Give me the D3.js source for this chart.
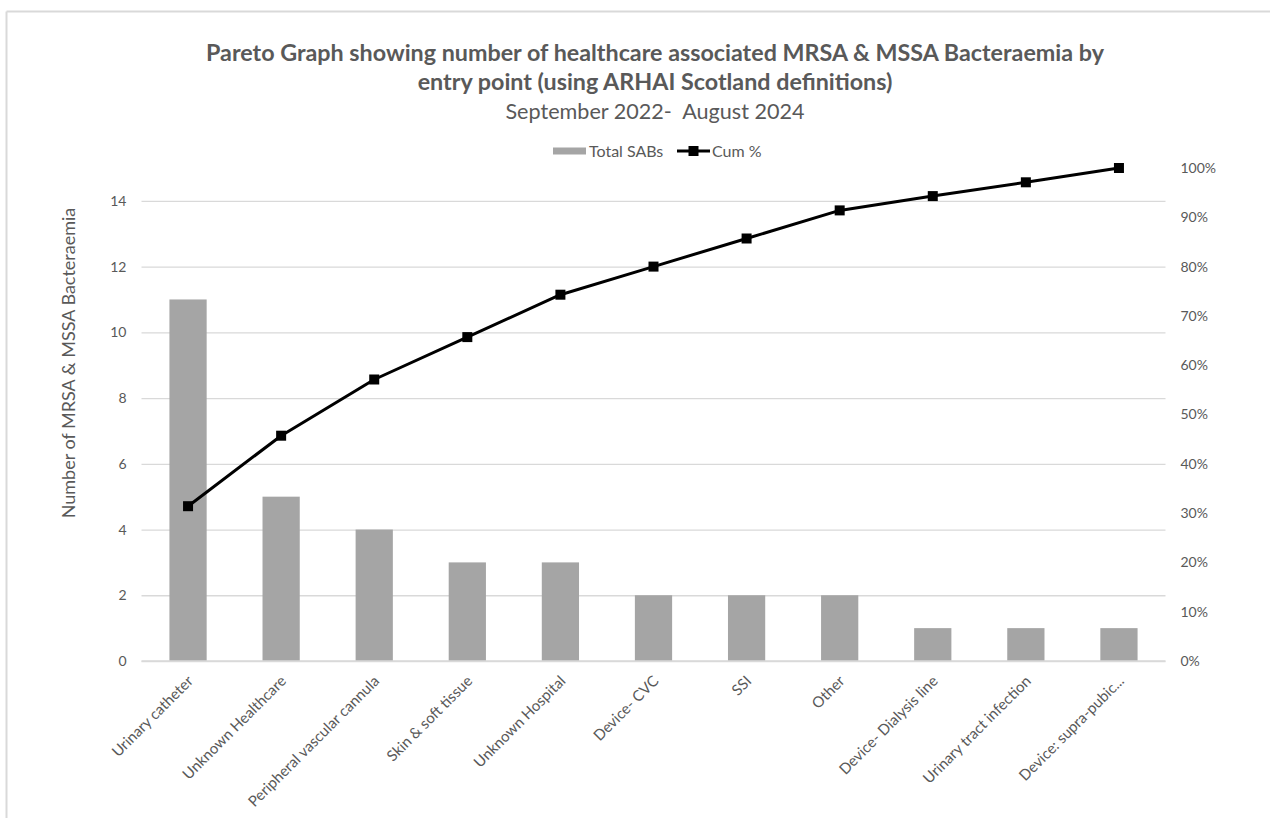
<!DOCTYPE html>
<html>
<head>
<meta charset="utf-8">
<script src="https://cdn.jsdelivr.net/npm/d3@7"></script>
<style>
  html, body { margin: 0; padding: 0; background: #ffffff; }
  svg { display: block; font-family: Lato, "Open Sans", sans-serif; }
</style>
</head>
<body>
<svg id="chart" width="1270" height="818"></svg>
<script>
// Entry points, ordered by count
const categories = [
  "Urinary catheter", "Unknown Healthcare", "Peripheral vascular cannula",
  "Skin & soft tissue", "Unknown Hospital", "Device- CVC", "SSI", "Other",
  "Device- Dialysis line", "Urinary tract infection", "Device: supra-pubic..."
];
// Total SABs per entry point
const totalSABs = [11, 5, 4, 3, 3, 2, 2, 2, 1, 1, 1];
// Cumulative percentage of all SABs
const cumPct = [31.4, 45.7, 57.1, 65.7, 74.3, 80.0, 85.7, 91.4, 94.3, 97.1, 100.0];
// Axis ticks
const leftTicks = [0, 2, 4, 6, 8, 10, 12, 14];
const rightTicks = [0, 10, 20, 30, 40, 50, 60, 70, 80, 90, 100];

const titleLines = [
  "Pareto Graph showing number of healthcare associated MRSA & MSSA Bacteraemia by",
  "entry point (using ARHAI Scotland definitions)"
];
const subtitle = "September 2022-  August 2024";
const yTitle = "Number of MRSA & MSSA Bacteraemia";
const legendLabels = ["Total SABs", "Cum %"];

const svg = d3.select("#chart");
const textColor = "#595959";
const gridColor = "#d9d9d9";
const barColor = "#a5a5a5";

// Outer frame (top and left edges)
svg.append("line").attr("x1", 6.5).attr("x2", 1270).attr("y1", 11.5).attr("y2", 11.5)
  .attr("stroke", gridColor).attr("stroke-width", 2);
svg.append("line").attr("x1", 6.5).attr("x2", 6.5).attr("y1", 11.5).attr("y2", 818)
  .attr("stroke", gridColor).attr("stroke-width", 2);

const plot = { left: 141.5, right: 1165.5, top: 168, bottom: 661 };

const x = d3.scaleBand().domain(categories)
  .range([plot.left, plot.right]).paddingInner(0.6).paddingOuter(0.3);
const yL = d3.scaleLinear().domain([0, 15]).range([plot.bottom, plot.top]);
const yR = d3.scaleLinear().domain([0, 100]).range([plot.bottom, plot.top]);

// Titles
svg.append("text").attr("x", 655).attr("y", 61).attr("text-anchor", "middle")
  .attr("font-size", 23.3).attr("font-weight", "bold").attr("fill", textColor)
  .text(titleLines[0]);
svg.append("text").attr("x", 655).attr("y", 90).attr("text-anchor", "middle")
  .attr("font-size", 23.3).attr("font-weight", "bold").attr("fill", textColor)
  .text(titleLines[1]);
svg.append("text").attr("x", 655).attr("y", 119).attr("text-anchor", "middle")
  .attr("font-size", 21.6).attr("fill", textColor)
  .attr("xml:space", "preserve").style("white-space", "pre")
  .text(subtitle);

// Gridlines from the left axis
const gridAxis = d3.axisLeft(yL).tickValues(leftTicks)
  .tickSize(-(plot.right - plot.left)).tickFormat("");
const gG = svg.append("g").attr("transform", `translate(${plot.left},0)`).call(gridAxis);
gG.select(".domain").remove();
gG.selectAll("line").attr("stroke", gridColor).attr("stroke-width", 1.3);

// Left axis labels
const leftAxis = d3.axisLeft(yL).tickValues(leftTicks).tickSize(0).tickPadding(15);
const lA = svg.append("g").attr("transform", `translate(${plot.left},0)`).call(leftAxis);
lA.select(".domain").remove();
lA.selectAll("text").attr("fill", textColor).attr("font-size", 14)
  .attr("font-family", "Lato, sans-serif");

// Right axis labels
const rightAxis = d3.axisRight(yR).tickValues(rightTicks).tickSize(0).tickPadding(15)
  .tickFormat(d => d + "%");
const rA = svg.append("g").attr("transform", `translate(${plot.right},0)`).call(rightAxis);
rA.select(".domain").remove();
rA.selectAll("text").attr("fill", textColor).attr("font-size", 14)
  .attr("font-family", "Lato, sans-serif");

// Bars
svg.append("g").selectAll("rect").data(categories).join("rect")
  .attr("x", d => x(d))
  .attr("width", x.bandwidth())
  .attr("y", (d, i) => yL(totalSABs[i]))
  .attr("height", (d, i) => yL(0) - yL(totalSABs[i]))
  .attr("fill", barColor);

// Category axis
const xAxis = d3.axisBottom(x).tickSize(0).tickPadding(0);
const xA = svg.append("g").attr("transform", `translate(0,${plot.bottom})`).call(xAxis);
xA.select(".domain").remove();
xA.selectAll("text")
  .attr("fill", textColor).attr("font-size", 15).attr("font-family", "Lato, sans-serif")
  .attr("text-anchor", "end")
  .attr("dy", 0)
  .attr("transform", "translate(6,21) rotate(-45)");

// Baseline
svg.append("line").attr("x1", plot.left).attr("x2", plot.right)
  .attr("y1", yL(0)).attr("y2", yL(0)).attr("stroke", gridColor).attr("stroke-width", 1.3);

// Cumulative % line
const cx = d => x(d) + x.bandwidth() / 2;
const line = d3.line().x((d, i) => cx(categories[i])).y(d => yR(d));
svg.append("path").datum(cumPct).attr("d", line)
  .attr("fill", "none").attr("stroke", "#000").attr("stroke-width", 3)
  .attr("stroke-linejoin", "round");
svg.append("g").selectAll("rect").data(cumPct).join("rect")
  .attr("x", (d, i) => cx(categories[i]) - 5)
  .attr("y", d => yR(d) - 5)
  .attr("width", 10).attr("height", 10).attr("fill", "#000");

// Y axis title
svg.append("text")
  .attr("transform", `translate(75,363) rotate(-90)`)
  .attr("text-anchor", "middle").attr("font-size", 18).attr("fill", textColor)
  .text(yTitle);

// Legend
const lg = svg.append("g").attr("transform", "translate(553,151)");
lg.append("rect").attr("x", 0).attr("y", -3.5).attr("width", 33).attr("height", 7).attr("fill", barColor);
lg.append("text").attr("x", 36).attr("y", 5.5).attr("font-size", 16).attr("fill", textColor)
  .text(legendLabels[0]);
lg.append("line").attr("x1", 124).attr("x2", 157).attr("y1", 0).attr("y2", 0)
  .attr("stroke", "#000").attr("stroke-width", 3);
lg.append("rect").attr("x", 135.5).attr("y", -5).attr("width", 10).attr("height", 10).attr("fill", "#000");
lg.append("text").attr("x", 159).attr("y", 5.5).attr("font-size", 16).attr("fill", textColor)
  .text(legendLabels[1]);
</script>
</body>
</html>
